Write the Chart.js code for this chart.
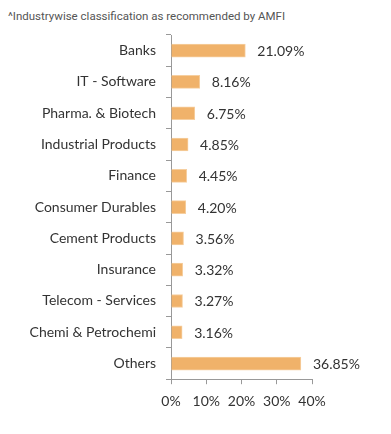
<!DOCTYPE html>
<html>
<head>
<meta charset="utf-8">
<script src="https://cdn.jsdelivr.net/npm/chart.js@4.4.0/dist/chart.umd.min.js"></script>
<style>
  html, body { margin: 0; padding: 0; background: #fff; }
  #wrap { position: relative; width: 391px; height: 434px; }
  #note { position: absolute; left: 8px; top: 9px; font: 11.5px Roboto, sans-serif; color: #555; }
  #box { position: absolute; left: 0; top: 0; width: 391px; height: 434px; }
</style>
</head>
<body>
<div id="wrap">
  <div id="note">^Industrywise classification as recommended by AMFI</div>
  <div id="box"><canvas id="sectorChart"></canvas></div>
</div>
<script>
// sector allocation data
const sectors = ['Banks', 'IT - Software', 'Pharma. & Biotech', 'Industrial Products', 'Finance',
  'Consumer Durables', 'Cement Products', 'Insurance', 'Telecom - Services', 'Chemi & Petrochemi', 'Others'];
const weights = [21.09, 8.16, 6.75, 4.85, 4.45, 4.20, 3.56, 3.32, 3.27, 3.16, 36.85];
const xTicks = [0, 10, 20, 30, 40];

// value labels next to each bar
const valueLabels = {
  id: 'valueLabels',
  afterDatasetsDraw(chart) {
    const ctx = chart.ctx;
    const meta = chart.getDatasetMeta(0);
    ctx.save();
    ctx.font = '14px Lato';
    ctx.fillStyle = '#333';
    ctx.textBaseline = 'middle';
    meta.data.forEach((bar, i) => {
      ctx.fillText(weights[i].toFixed(2) + '%', bar.x + 12, bar.y + 1);
    });
    ctx.restore();
  }
};

new Chart(document.getElementById('sectorChart'), {
  type: 'bar',
  data: {
    labels: sectors,
    datasets: [{
      data: weights,
      backgroundColor: '#F0B26A',
      borderColor: '#F6CFA0',
      borderWidth: 1,
      borderSkipped: 'left',
      barThickness: 13
    }]
  },
  options: {
    indexAxis: 'y',
    responsive: true,
    maintainAspectRatio: false,
    animation: false,
    layout: { padding: { top: 35, right: 79, left: 30, bottom: 15 } },
    plugins: { legend: { display: false }, tooltip: { enabled: false } },
    scales: {
      x: {
        min: 0, max: 40,
        afterBuildTicks: (axis) => { axis.ticks = xTicks.map(v => ({ value: v })); },
        ticks: { color: '#333', font: { family: 'Lato', size: 14 }, padding: 9, callback: v => v + '%' },
        grid: { drawOnChartArea: false, drawTicks: true, tickLength: 5, color: '#999' },
        border: { display: true, color: '#999' }
      },
      y: {
        ticks: { color: '#333', font: { family: 'Lato', size: 14 }, padding: 10 },
        grid: { drawOnChartArea: false, drawTicks: true, tickLength: 5, color: '#999', offset: true },
        border: { display: true, color: '#999' }
      }
    }
  },
  plugins: [valueLabels]
});
</script>
</body>
</html>
